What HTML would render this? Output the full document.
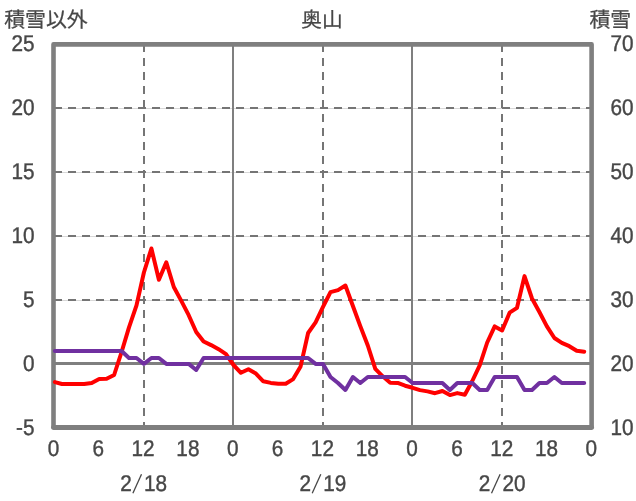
<!DOCTYPE html>
<html lang="ja"><head><meta charset="utf-8"><title>奥山</title>
<style>
html,body{margin:0;padding:0;background:#fff;}
body{width:636px;height:501px;overflow:hidden;font-family:"Liberation Sans",sans-serif;}
svg{display:block;}
.t{font-family:"Liberation Sans",sans-serif;font-size:22.40px;fill:#474747;stroke:#474747;stroke-width:0.4px;text-rendering:geometricPrecision;}
.j{font-family:"Liberation Sans","Noto Sans CJK JP",sans-serif;fill:#474747;stroke:#474747;stroke-width:0.25px;text-rendering:geometricPrecision;}
</style></head>
<body>
<svg role="img" aria-label="奥山 積雪以外 積雪" style="will-change:transform" width="636" height="501" viewBox="0 0 636 501">
<line x1="54" x2="591" y1="108.5" y2="108.5" stroke="#d8d8d8" stroke-width="1"/>
<line x1="54" x2="591" y1="172.5" y2="172.5" stroke="#d8d8d8" stroke-width="1"/>
<line x1="54" x2="591" y1="236.5" y2="236.5" stroke="#d8d8d8" stroke-width="1"/>
<line x1="54" x2="591" y1="300.5" y2="300.5" stroke="#d8d8d8" stroke-width="1"/>
<line x1="54" x2="591" y1="108" y2="108" stroke="#757575" stroke-width="2" stroke-dasharray="8 6"/>
<line x1="54" x2="591" y1="172" y2="172" stroke="#757575" stroke-width="2" stroke-dasharray="8 6"/>
<line x1="54" x2="591" y1="236" y2="236" stroke="#757575" stroke-width="2" stroke-dasharray="8 6"/>
<line x1="54" x2="591" y1="300" y2="300" stroke="#757575" stroke-width="2" stroke-dasharray="8 6"/>
<line x1="144" x2="144" y1="44" y2="427" stroke="#757575" stroke-width="2" stroke-dasharray="8 6"/>
<line x1="323" x2="323" y1="44" y2="427" stroke="#757575" stroke-width="2" stroke-dasharray="8 6"/>
<line x1="502" x2="502" y1="44" y2="427" stroke="#757575" stroke-width="2" stroke-dasharray="8 6"/>
<line x1="233" x2="233" y1="44" y2="427" stroke="#7f7f7f" stroke-width="2"/>
<line x1="412" x2="412" y1="44" y2="427" stroke="#7f7f7f" stroke-width="2"/>
<line x1="54" x2="591" y1="363.5" y2="363.5" stroke="#7f7f7f" stroke-width="3"/>
<rect x="53.5" y="44.4" width="538.1" height="382.9" fill="none" stroke="#7f7f7f" stroke-width="4.6" stroke-linejoin="round"/>
<line x1="53.5" x2="591.6" y1="427.45" y2="427.45" stroke="#7f7f7f" stroke-width="4.9" stroke-linecap="round"/>
<polyline points="54.9,382.1 61.9,384.0 69.3,384.0 76.8,384.0 84.2,384.0 91.7,383.0 99.2,379.0 106.6,378.8 114.1,375.0 121.6,352.0 129.0,327.4 136.5,305.4 143.9,272.5 151.4,248.5 158.9,279.8 166.3,262.3 173.8,287.0 181.3,300.9 188.7,315.2 196.2,332.0 203.6,341.5 211.1,345.1 218.6,349.2 226.0,354.2 233.5,365.0 240.9,372.8 248.4,369.2 255.9,373.6 263.3,381.3 270.8,382.9 278.3,383.8 285.7,383.8 293.2,379.1 300.6,366.4 308.1,333.0 315.6,322.3 323.0,306.9 330.5,292.1 338.0,290.1 345.4,285.5 352.9,306.0 360.3,326.1 367.8,345.5 375.3,368.8 382.7,376.3 390.2,382.7 397.7,382.9 405.1,385.7 412.6,387.8 420.0,390.1 427.5,391.4 435.0,393.2 442.4,391.0 449.9,395.1 457.3,393.1 464.8,394.7 472.3,381.0 479.7,365.4 487.2,342.5 494.7,326.4 502.1,330.5 509.6,312.7 517.0,307.8 524.5,276.1 532.0,298.5 539.4,312.0 546.9,326.4 554.4,338.0 561.8,342.9 569.3,346.2 576.7,350.8 584.2,351.7" fill="none" stroke="#ff0000" stroke-width="4" stroke-linejoin="round" stroke-linecap="round"/>
<polyline points="54.9,351.0 61.9,351.0 69.3,351.0 76.8,351.0 84.2,351.0 91.7,351.0 99.2,351.0 106.6,351.0 114.1,351.0 121.6,351.0 129.0,358.0 136.5,358.0 143.9,363.9 151.4,358.0 158.9,358.0 166.3,363.9 173.8,363.9 181.3,363.9 188.7,363.9 196.2,370.0 203.6,358.0 211.1,358.0 218.6,358.0 226.0,358.0 233.5,358.0 240.9,358.0 248.4,358.0 255.9,358.0 263.3,358.0 270.8,358.0 278.3,358.0 285.7,358.0 293.2,358.0 300.6,358.0 308.1,358.0 315.6,363.9 323.0,363.9 330.5,377.0 338.0,383.0 345.4,390.0 352.9,377.0 360.3,383.0 367.8,377.0 375.3,377.0 382.7,377.0 390.2,377.0 397.7,377.0 405.1,377.0 412.6,383.0 420.0,383.0 427.5,383.0 435.0,383.0 442.4,383.0 449.9,390.0 457.3,383.0 464.8,383.0 472.3,383.0 479.7,390.0 487.2,390.0 494.7,377.0 502.1,377.0 509.6,377.0 517.0,377.0 524.5,390.0 532.0,390.0 539.4,383.0 546.9,383.0 554.4,377.0 561.8,383.0 569.3,383.0 576.7,383.0 584.2,383.0" fill="none" stroke="#7030a0" stroke-width="4" stroke-linejoin="round" stroke-linecap="round"/>
<text class="t" transform="translate(34.50 50.75) scale(0.926 1.015)" text-anchor="end">25</text>
<text class="t" transform="translate(34.50 114.75) scale(0.926 1.015)" text-anchor="end">20</text>
<text class="t" transform="translate(34.50 178.75) scale(0.926 1.015)" text-anchor="end">15</text>
<text class="t" transform="translate(34.50 242.75) scale(0.926 1.015)" text-anchor="end">10</text>
<text class="t" transform="translate(34.50 306.75) scale(0.926 1.015)" text-anchor="end">5</text>
<text class="t" transform="translate(34.50 370.75) scale(0.926 1.015)" text-anchor="end">0</text>
<text class="t" transform="translate(34.50 434.75) scale(0.926 1.015)" text-anchor="end">-5</text>
<text class="t" transform="translate(610.50 50.75) scale(0.926 1.015)">70</text>
<text class="t" transform="translate(610.50 114.75) scale(0.926 1.015)">60</text>
<text class="t" transform="translate(610.50 178.75) scale(0.926 1.015)">50</text>
<text class="t" transform="translate(610.50 242.75) scale(0.926 1.015)">40</text>
<text class="t" transform="translate(610.50 306.75) scale(0.926 1.015)">30</text>
<text class="t" transform="translate(610.50 370.75) scale(0.926 1.015)">20</text>
<text class="t" transform="translate(610.50 434.75) scale(0.926 1.015)">10</text>
<text class="t" transform="translate(53.40 455.70) scale(0.926 1.015)" text-anchor="middle">0</text>
<text class="t" transform="translate(98.23 455.70) scale(0.926 1.015)" text-anchor="middle">6</text>
<text class="t" transform="translate(143.06 455.70) scale(0.926 1.015)" text-anchor="middle">12</text>
<text class="t" transform="translate(187.90 455.70) scale(0.926 1.015)" text-anchor="middle">18</text>
<text class="t" transform="translate(232.73 455.70) scale(0.926 1.015)" text-anchor="middle">0</text>
<text class="t" transform="translate(277.56 455.70) scale(0.926 1.015)" text-anchor="middle">6</text>
<text class="t" transform="translate(322.39 455.70) scale(0.926 1.015)" text-anchor="middle">12</text>
<text class="t" transform="translate(367.22 455.70) scale(0.926 1.015)" text-anchor="middle">18</text>
<text class="t" transform="translate(412.06 455.70) scale(0.926 1.015)" text-anchor="middle">0</text>
<text class="t" transform="translate(456.89 455.70) scale(0.926 1.015)" text-anchor="middle">6</text>
<text class="t" transform="translate(501.72 455.70) scale(0.926 1.015)" text-anchor="middle">12</text>
<text class="t" transform="translate(546.55 455.70) scale(0.926 1.015)" text-anchor="middle">18</text>
<text class="t" transform="translate(591.38 455.70) scale(0.926 1.015)" text-anchor="middle">0</text>
<text class="t" transform="translate(131.70 491.30) scale(0.926 1.015)" text-anchor="end">2</text>
<line x1="132.9" y1="493.3" x2="141.5" y2="474.3" stroke="#474747" stroke-width="1.3"/><text class="t" transform="translate(143.90 491.30) scale(0.926 1.015)">18</text>
<text class="t" transform="translate(311.00 491.30) scale(0.926 1.015)" text-anchor="end">2</text>
<line x1="312.2" y1="493.3" x2="320.8" y2="474.3" stroke="#474747" stroke-width="1.3"/><text class="t" transform="translate(323.20 491.30) scale(0.926 1.015)">19</text>
<text class="t" transform="translate(490.30 491.30) scale(0.926 1.015)" text-anchor="end">2</text>
<line x1="491.5" y1="493.3" x2="500.1" y2="474.3" stroke="#474747" stroke-width="1.3"/><text class="t" transform="translate(502.50 491.30) scale(0.926 1.015)">20</text>
<text class="j" x="4.2" y="27.2" font-size="20.9">積雪以外</text>
<text class="j" x="301.3" y="27" font-size="20.7">奥山</text>
<text class="j" x="589.4" y="27.2" font-size="20.9">積雪</text>
</svg>
</body></html>
